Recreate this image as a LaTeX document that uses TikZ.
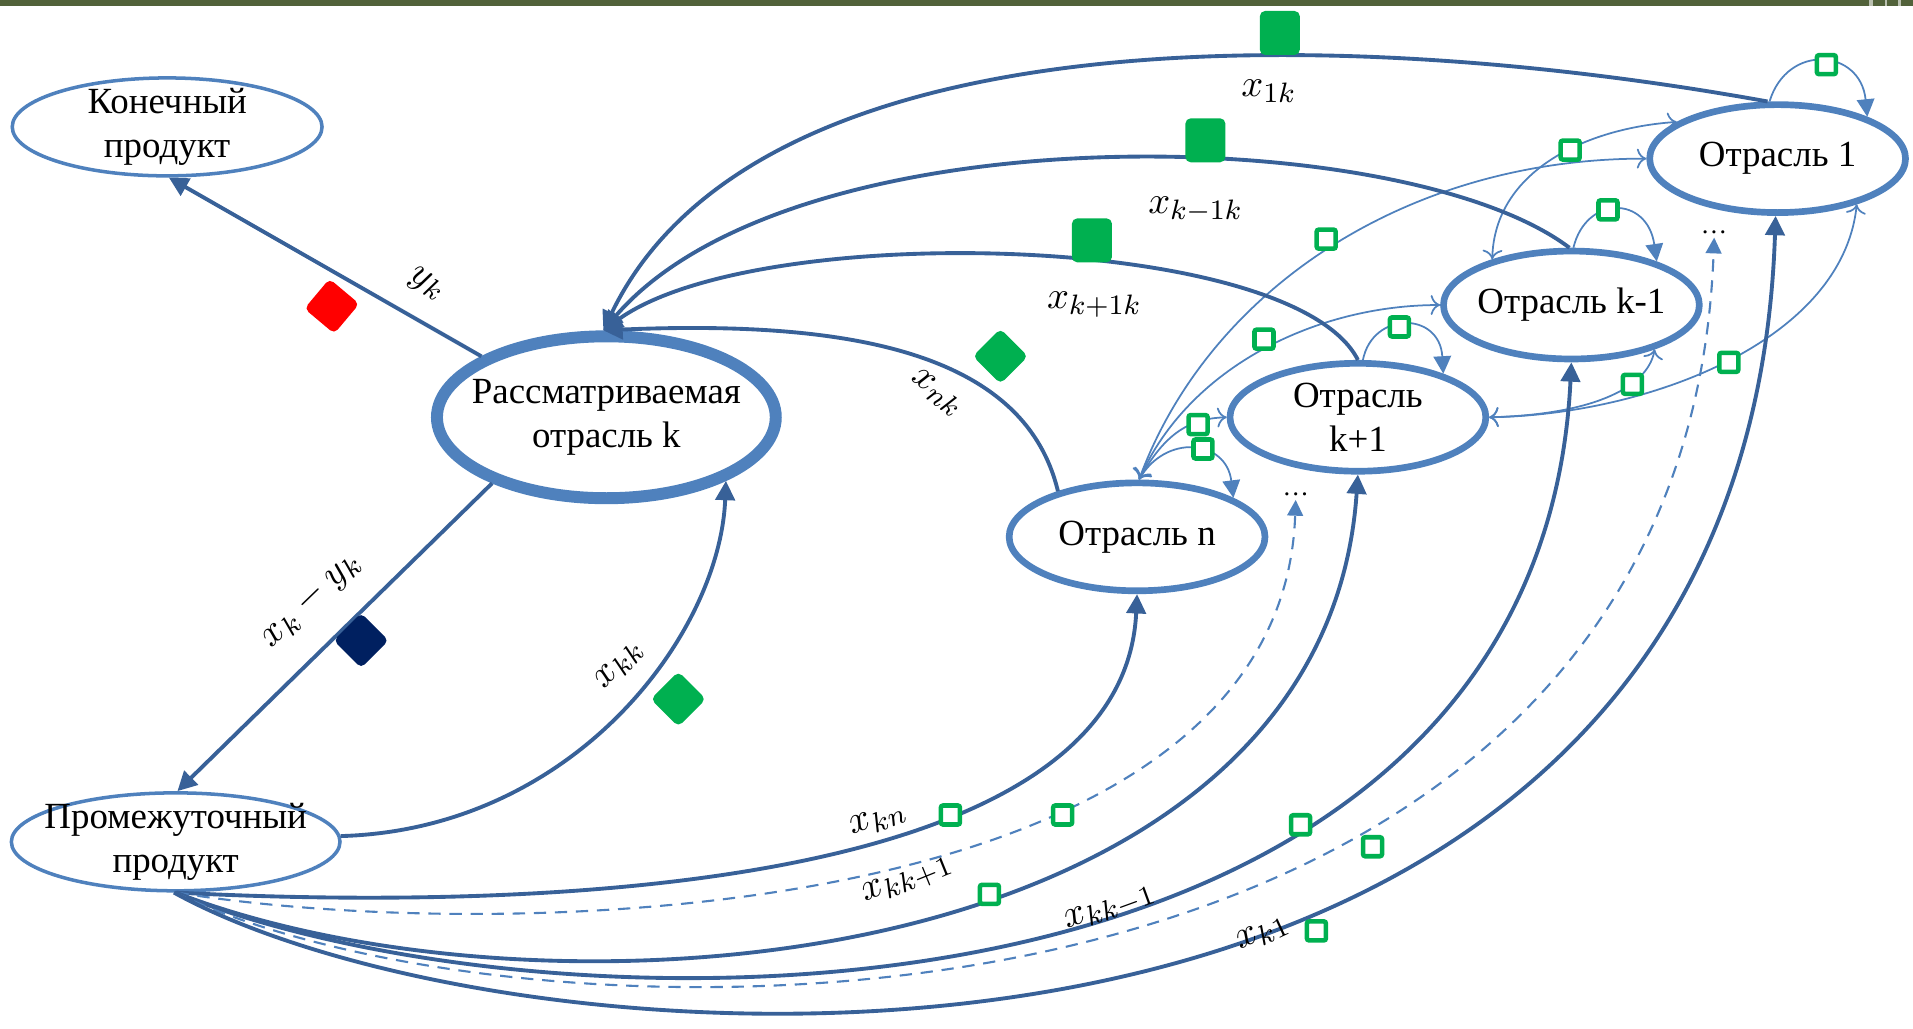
\documentclass[tikz,border=0pt]{standalone}
\usepackage{fontspec}
\setmainfont{Liberation Serif}
\usetikzlibrary{arrows.meta,shapes.geometric}

\definecolor{nodeblue}{RGB}{79,129,189}
\definecolor{flowblue}{RGB}{56,97,152}
\definecolor{markgreen}{RGB}{0,176,80}
\definecolor{markred}{RGB}{255,0,0}
\definecolor{marknavy}{RGB}{0,32,96}
\definecolor{barolive}{RGB}{82,98,58}

\tikzset{
  sector/.style={ellipse, draw=nodeblue, line width=1.9pt, fill=white,
    inner xsep=-0.15cm, inner ysep=-0.05cm,
    minimum width=2.56cm, minimum height=1.08cm, align=center,
    font=\fontsize{10.5}{12.4}\selectfont},
  product/.style={sector, line width=1pt, minimum width=3.1cm, minimum height=0.98cm},
  mainsector/.style={sector, line width=3.4pt, minimum width=3.39cm, minimum height=1.62cm},
  flow/.style={draw=flowblue, line width=1.1pt, -{Triangle[width=5.5pt,length=5.5pt]}},
  thinflow/.style={draw=nodeblue, line width=0.5pt, -{Triangle[width=5pt,length=5pt]}},
  dashflow/.style={draw=nodeblue, line width=0.6pt, dash pattern=on 3.5pt off 2.5pt,
    -{Triangle[width=4.5pt,length=4.5pt]}},
  flowlabel/.style={inner sep=1pt, font=\fontsize{11}{13}\selectfont},
  bigmark/.style={fill=markgreen, rounded corners=1.5pt, inner sep=0pt,
    minimum width=0.40cm, minimum height=0.44cm},
  diamark/.style={fill=#1, rounded corners=1.5pt, inner sep=0pt, minimum size=0.39cm},
  tick/.style={draw=markgreen, fill=white, line width=1.3pt, inner sep=0pt,
    minimum size=0.19cm, rounded corners=0.6pt},
  dotsnode/.style={inner sep=1pt, font=\fontsize{7.5}{8}\selectfont}
}

\begin{document}
\begin{tikzpicture}[x=0.0122cm, y=-0.0122cm]
    \useasboundingbox (0,0) rectangle (1568,843);
    % top bar
    \fill[barolive] (0,0) rectangle (1568,5);
    \fill[barolive!40] (1532,0) rectangle (1535,5);
    \fill[barolive!40] (1545,0) rectangle (1547,5);
    \fill[barolive!40] (1556,0) rectangle (1558,5);

    % industries
    \node[sector] (one) at (1457,130) {Отрасль 1};
    \node[sector] (km1) at (1288,250) {Отрасль k-1};
    \node[sector] (kp1) at (1113,342) {Отрасль\\k+1};
    \node[sector] (nn) at (932,440) {Отрасль n};
    \node[mainsector] (main) at (497,342) {Рассматриваемая\\отрасль k};
    \node[product] (fin) at (137,104) {Конечный\\продукт};
    \node[product, minimum width=3.28cm] (inter) at (144,690) {Промежуточный\\продукт};
    \node[dotsnode] (dotsA) at (1062,405) {\ldots};
    \node[dotsnode] (dotsB) at (1405,190) {\ldots};

    % flows between the other industries
    \draw[thinflow] (one.98) .. controls (1465,35) and (1525,40) .. (one.25);
    \draw[thinflow] (km1.88) .. controls (1300,160) and (1350,160) .. (km1.27);
    \draw[thinflow] (kp1.85) .. controls (1125,255) and (1180,255) .. (kp1.27);
    \draw[thinflow] (nn.88) .. controls (955,355) and (1005,360) .. (nn.22);
    \draw[thinflow, <->] (nn.88) .. controls (955,355) and (975,343) .. (kp1.180);
    \draw[thinflow, <->] (nn.88) .. controls (975,300) and (1080,250) .. (km1.180);
    \draw[thinflow, <->] (nn.88) .. controls (990,240) and (1150,130) .. (one.180);
    \draw[thinflow, <->] (km1.150) .. controls (1225,140) and (1300,105) .. (one.160);
    \draw[thinflow, <->] (kp1.0) .. controls (1300,340) and (1350,320) .. (km1.-28);
    \draw[thinflow, <->] (kp1.0) .. controls (1350,340) and (1510,280) .. (one.-30);

    % product flows
    \draw[flow] (main.154) -- (fin.-88);
    \draw[flow] (main.210) -- (inter.88);
    \draw[flow] (inter.2) .. controls (470,680) and (590,520) .. (main.-28);

    % deliveries to industry k
    \draw[flow] (one.100) .. controls (1100,20) and (620,10) .. (main.92);
    \draw[flow] (km1.92) .. controls (1150,100) and (650,90) .. (main.92);
    \draw[flow] (kp1.90) .. controls (1060,190) and (620,180) .. (main.92);
    \draw[flow] (nn.150) .. controls (840,290) and (700,262) .. (main.92);

    % deliveries from industry k
    \draw[flow] (inter.-89) .. controls (400,745) and (920,740) .. (nn.-90);
    \draw[dashflow] (inter.-89) .. controls (410,775) and (1050,760) .. (dotsA.south);
    \draw[flow] (inter.-90) .. controls (450,850) and (1085,800) .. (kp1.-90);
    \draw[flow] (inter.-91) .. controls (460,860) and (1260,860) .. (km1.-90);
    \draw[dashflow] (inter.-91) .. controls (440,875) and (1380,880) .. (dotsB.south);
    \draw[flow] (inter.-92) .. controls (430,890) and (1430,950) .. (one.-92);

    % markers
    \node[diamark=markred, rotate=50] (myk) at (272,251) {};
    \node[diamark=marknavy, rotate=45] (mxy) at (296,525) {};
    \node[diamark=markgreen, rotate=45] (mkk) at (556,573) {};
    \node[diamark=markgreen, rotate=45] (mnk) at (820,292) {};
    \node[bigmark] (m1k) at (1049,27) {};
    \node[bigmark] (mkm1k) at (988,115) {};
    \node[bigmark] (mkp1k) at (895,197) {};
    \node[tick] (t1) at (1497,53) {};
    \node[tick] (t2) at (1318,172) {};
    \node[tick] (t3) at (1147,268) {};
    \node[tick] (t4) at (986,368) {};
    \node[tick] (t5) at (982,348) {};
    \node[tick] (t6) at (1036,278) {};
    \node[tick] (t7) at (1087,196) {};
    \node[tick] (t8) at (1287,123) {};
    \node[tick] (t9) at (1338,315) {};
    \node[tick] (t10) at (1417,297) {};
    \node[tick] (t11) at (779,668) {};
    \node[tick] (t12) at (871,668) {};
    \node[tick] (t13) at (811,733) {};
    \node[tick] (t14) at (1066,676) {};
    \node[tick] (t15) at (1125,694) {};
    \node[tick] (t16) at (1079,763) {};

    % labels
    \node[flowlabel, rotate=-32] (lyk) at (350,233) {$y_k$};
    \node[flowlabel, rotate=44] (lxy) at (255,492) {$x_k-y_k$};
    \node[flowlabel, rotate=48] (lkk) at (508,545) {$x_{kk}$};
    \node[flowlabel, rotate=-38] (lnk) at (768,322) {$x_{nk}$};
    \node[flowlabel] (l1k) at (1040,75) {$x_{1k}$};
    \node[flowlabel] (lkm1k) at (980,172) {$x_{k-1k}$};
    \node[flowlabel] (lkp1k) at (897,250) {$x_{k+1k}$};
    \node[flowlabel, rotate=20] (lkn) at (720,672) {$x_{kn}$};
    \node[flowlabel, rotate=22] (lkkp1) at (744,722) {$x_{kk+1}$};
    \node[flowlabel, rotate=20] (lkkm1) at (910,745) {$x_{kk-1}$};
    \node[flowlabel, rotate=25] (lk1) at (1035,765) {$x_{k1}$};
\end{tikzpicture}
\end{document}
